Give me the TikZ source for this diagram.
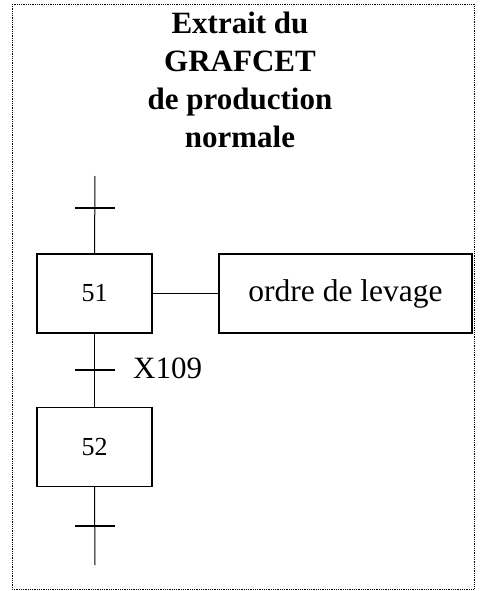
\documentclass[tikz,border=0pt]{standalone}
\usepackage{fontspec}
\setmainfont{Liberation Serif}
\begin{document}
\begin{tikzpicture}[x=1pt,y=-1pt,
  stepbox/.style={draw,line width=1.3pt,minimum width=115pt,minimum height=79pt,inner sep=0pt,font=\fontsize{26}{30}\selectfont},
  actbox/.style={draw,line width=1.3pt,minimum width=253pt,minimum height=79pt,inner sep=0pt,font=\fontsize{31.5}{36}\selectfont},
  link/.style={line width=1pt},
  tick/.style={line width=1.3pt}]
\useasboundingbox (0,0) rectangle (479,591);
\draw[line width=0.8pt,densely dotted] (12,4) rectangle (474,589);
\node[font=\bfseries\fontsize{31}{38}\selectfont,align=center,anchor=base] (title) at (240,147)
  {Extrait du\\GRAFCET\\de production\\normale};
\coordinate (top) at (95,176);
\node[stepbox] (s51) at (94.5,293.5) {51};
\node[actbox] (a51) at (345.5,293.5) {ordre de levage};
\node[stepbox] (s52) at (94.5,447) {52};
\coordinate (bot) at (95,565);
\draw[link] (top) -- (s51.north);
\draw[link] (s51.east) -- (a51.west);
\draw[link] (s51.south) -- (s52.north);
\draw[link] (s52.south) -- (bot);
\coordinate (t1) at (95,208);
\coordinate (t2) at (95,370);
\coordinate (t3) at (95,526);
\draw[tick] ([xshift=-20pt]t1) -- ([xshift=20pt]t1);
\draw[tick] ([xshift=-20pt]t2) -- ([xshift=20pt]t2);
\draw[tick] ([xshift=-20pt]t3) -- ([xshift=20pt]t3);
\node[anchor=west,inner sep=0pt,font=\fontsize{31}{36}\selectfont] (x109) at (133,368) {X109};
\end{tikzpicture}
\end{document}
